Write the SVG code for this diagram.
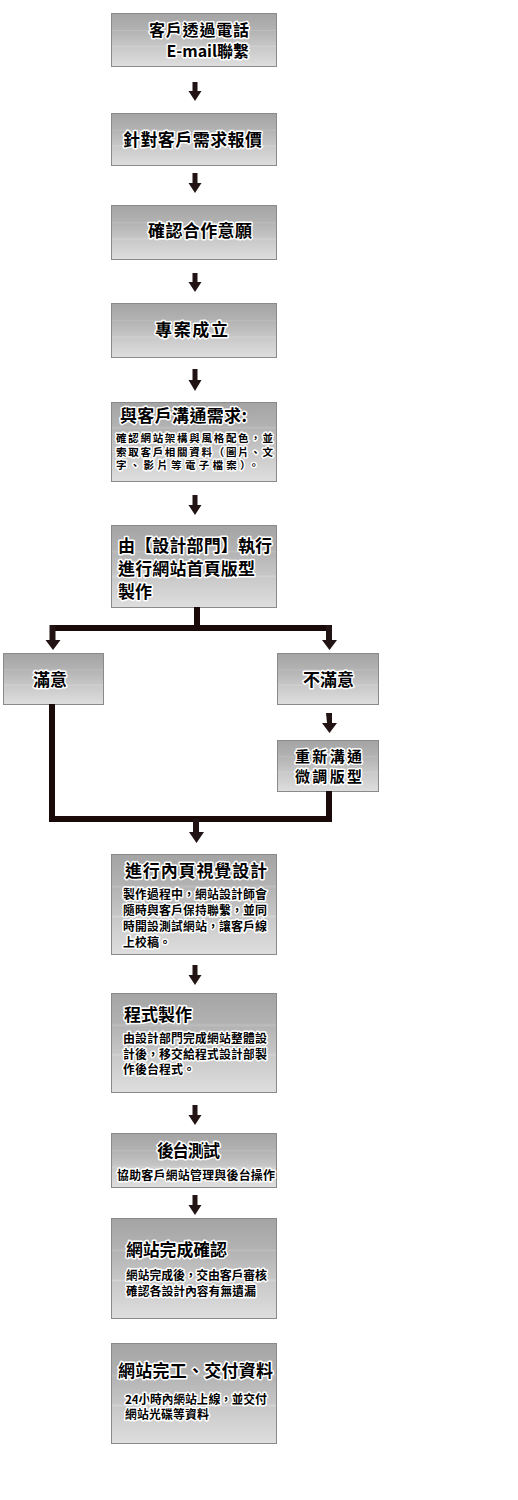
<svg xmlns="http://www.w3.org/2000/svg" width="518" height="1500" viewBox="0 0 518 1500">
<defs>
<linearGradient id="g" x1="0" y1="0" x2="0" y2="1">
<stop offset="0" stop-color="#a4a4a4"/>
<stop offset="0.3" stop-color="#b2b2b2"/>
<stop offset="0.32" stop-color="#bdbdbd"/>
<stop offset="0.34" stop-color="#b4b4b4"/>
<stop offset="0.6" stop-color="#c6c6c6"/>
<stop offset="0.62" stop-color="#d2d2d2"/>
<stop offset="0.64" stop-color="#c9c9c9"/>
<stop offset="1" stop-color="#dedede"/>
</linearGradient>
</defs>
<style>
.box{fill:url(#g);stroke:#8a8a8a;stroke-width:1}
text{font-family:"Noto Sans CJK TC","Noto Sans CJK SC",sans-serif;fill:#000;stroke:#fff;stroke-width:3;stroke-linejoin:round;paint-order:stroke}
.t{font-size:17px;font-weight:bold}
.b{font-size:12px;font-weight:bold}
.s{font-size:10.5px;font-weight:bold}
.m{font-size:16px;font-weight:bold}
.n{font-size:15px;font-weight:bold}
.arr{fill:#221414}
.ln{fill:none;stroke:#1a0a0a;stroke-width:6}
</style>
<rect width="518" height="1500" fill="#fff"/>

<g id="n1"><rect class="box" x="111.5" y="13.5" width="165" height="53"/>
<text class="m" x="149" y="35.5" textLength="100">客戶透過電話</text>
<text class="m" x="249" y="57" text-anchor="end">E-mail聯繫</text></g>

<g id="n2"><rect class="box" x="111.5" y="113.5" width="165" height="52"/>
<text class="t" x="123" y="146" textLength="139">針對客戶需求報價</text></g>

<g id="n3"><rect class="box" x="111.5" y="205.5" width="165" height="54"/>
<text class="t" x="148" y="237" textLength="104">確認合作意願</text></g>

<g id="n4"><rect class="box" x="111.5" y="303.5" width="165" height="54"/>
<text class="t" x="155" y="336" textLength="73">專案成立</text></g>

<g id="n5"><rect class="box" x="111.5" y="402.5" width="165" height="79"/>
<text class="t" x="120" y="422" textLength="127">與客戶溝通需求:</text>
<text class="s" x="116" y="442" textLength="157">確認網站架構與風格配色，並</text>
<text class="s" x="116" y="455.5" textLength="157">索取客戶相關資料（圖片、文</text>
<text class="s" x="116" y="469" textLength="143">字、影片等電子檔案）。</text></g>

<g id="n6"><rect class="box" x="111.5" y="525.5" width="165" height="82"/>
<text class="t" x="118" y="552" textLength="154">由【設計部門】執行</text>
<text class="t" x="118" y="575" textLength="137">進行網站首頁版型</text>
<text class="t" x="118" y="598" textLength="34">製作</text></g>

<g id="n7"><rect class="box" x="3.5" y="653.5" width="100" height="51"/>
<text class="t" x="33" y="686">滿意</text></g>

<g id="n8"><rect class="box" x="277.5" y="653.5" width="101" height="51"/>
<text class="t" x="303" y="686">不滿意</text></g>

<g id="n9"><rect class="box" x="277.5" y="740.5" width="101" height="51"/>
<text class="n" x="295" y="761.5" textLength="67">重新溝通</text>
<text class="n" x="295" y="782" textLength="67">微調版型</text></g>

<g id="n10"><rect class="box" x="111.5" y="854.5" width="165" height="100"/>
<text class="t" x="125" y="877" textLength="142">進行內頁視覺設計</text>
<text class="b" x="123" y="899" textLength="144">製作過程中，網站設計師會</text>
<text class="b" x="123" y="915" textLength="144">隨時與客戶保持聯繫，並同</text>
<text class="b" x="123" y="931" textLength="144">時開設測試網站，讓客戶線</text>
<text class="b" x="123" y="947" textLength="48">上校稿。</text></g>

<g id="n11"><rect class="box" x="111.5" y="993.5" width="165" height="99"/>
<text class="t" x="124" y="1021">程式製作</text>
<text class="b" x="123" y="1043" textLength="144">由設計部門完成網站整體設</text>
<text class="b" x="123" y="1059" textLength="144">計後，移交給程式設計部製</text>
<text class="b" x="123" y="1074" textLength="72">作後台程式。</text></g>

<g id="n12"><rect class="box" x="111.5" y="1133.5" width="165" height="54"/>
<text class="t" x="157" y="1157" textLength="63">後台測試</text>
<text class="b" x="117" y="1180" textLength="158">協助客戶網站管理與後台操作</text></g>

<g id="n13"><rect class="box" x="111.5" y="1218.5" width="165" height="100"/>
<text class="t" x="126" y="1256" textLength="101">網站完成確認</text>
<text class="b" x="126" y="1280" textLength="141">網站完成後，交由客戶審核</text>
<text class="b" x="126" y="1296" textLength="130">確認各設計內容有無遺漏</text></g>

<g id="n14"><rect class="box" x="111.5" y="1343.5" width="165" height="100"/>
<text class="t" x="118" y="1377" textLength="155">網站完工、交付資料</text>
<text class="b" x="125" y="1404" textLength="142">24小時內網站上線，並交付</text>
<text class="b" x="125" y="1419" textLength="84">網站光碟等資料</text></g>

<g id="connectors">
<path class="arr" d="M192.5 82h5v9h4l-6.5 10l-6.5-10h4z"/>
<path class="arr" d="M192.5 173h5v10h4l-6.5 10l-6.5-10h4z"/>
<path class="arr" d="M192.5 273h5v9h4l-6.5 10l-6.5-10h4z"/>
<path class="arr" d="M192.5 369h5v11h4l-6.5 11l-6.5-11h4z"/>
<path class="arr" d="M192.5 495h5v10h4l-6.5 10l-6.5-10h4z"/>
<path class="ln" d="M197 607v21M52.5 628H331"/>
<path class="arr" d="M49.5 625h6v15h5l-7.5 10l-7.5-10h4z"/>
<path class="arr" d="M326 625h6v15h5l-7.5 10l-7.5-10h4z"/>
<path class="arr" d="M326 713h6v10h5l-7.5 10l-7.5-10h5z"/>
<path class="ln" d="M52 704v115H329v-28"/>
<path class="arr" d="M193 819h6v13h5l-7.5 11l-7.5-11h4z"/>
<path class="arr" d="M192.5 965h5v10h4l-6.5 10l-6.5-10h4z"/>
<path class="arr" d="M192.5 1105h5v10h4l-6.5 10l-6.5-10h4z"/>
<path class="arr" d="M192.5 1195h5v10h4l-6.5 10l-6.5-10h4z"/>
</g>
</svg>
